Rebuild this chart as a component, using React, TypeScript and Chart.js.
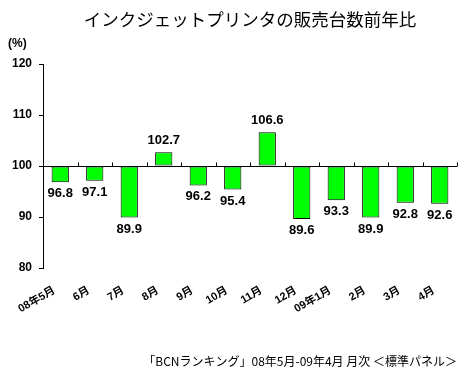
import React, { useEffect, useRef } from 'react';
import { Chart, registerables } from 'chart.js';

Chart.register(...registerables);

const TITLE = 'インクジェットプリンタの販売台数前年比';
const SOURCE = '「BCNランキング」08年5月-09年4月 月次 ＜標準パネル＞';
const UNIT = '(%)';
const categories = ['08年5月', '6月', '7月', '8月', '9月', '10月', '11月', '12月', '09年1月', '2月', '3月', '4月'];
const values = [96.8, 97.1, 89.9, 102.7, 96.2, 95.4, 106.6, 89.6, 93.3, 89.9, 92.8, 92.6];
const baseline = 100;
const yTicks = [80, 90, 100, 110, 120];

const FAMILY = "'Liberation Sans', 'Noto Sans CJK JP', sans-serif";
const CJK = "'Noto Sans CJK JP', 'Liberation Sans', sans-serif";

const overlay = {
  id: 'overlay',
  afterDatasetsDraw(chart: any) {
    const { ctx } = chart;
    const x = chart.scales.x;
    const y = chart.scales.y;
    const meta = chart.getDatasetMeta(0);
    ctx.save();
    const y0 = Math.round(y.getPixelForValue(baseline)) + 0.5;
    ctx.strokeStyle = '#000';
    ctx.lineWidth = 1;
    const n = categories.length;
    for (let i = 1; i <= n; i++) {
      const bx = i < n ? (x.getPixelForValue(i - 1) + x.getPixelForValue(i)) / 2 : x.right;
      const px = Math.round(bx) + 0.5;
      ctx.beginPath();
      ctx.moveTo(px, y0);
      ctx.lineTo(px, y0 - 4);
      ctx.stroke();
    }
    ctx.font = `bold 13px ${FAMILY}`;
    ctx.fillStyle = '#000';
    ctx.textAlign = 'center';
    meta.data.forEach((bar: any, i: number) => {
      const v = values[i];
      const py = y.getPixelForValue(v);
      if (v < baseline) {
        ctx.textBaseline = 'top';
        ctx.fillText(v.toFixed(1), bar.x, py + 5);
      } else {
        ctx.textBaseline = 'bottom';
        ctx.fillText(v.toFixed(1), bar.x, py - 5);
      }
    });
    ctx.font = `bold 12px ${FAMILY}`;
    ctx.textAlign = 'left';
    ctx.textBaseline = 'middle';
    ctx.fillText(UNIT, 8, 44);
    ctx.restore();
  },
};

export default function App() {
  const ref = useRef<HTMLCanvasElement | null>(null);
  useEffect(() => {
    document.body.style.margin = '0';
    const canvas = ref.current;
    if (!canvas) return;
    const chart = new Chart(canvas, {
      type: 'bar',
      data: {
        labels: categories,
        datasets: [
          {
            data: values,
            base: baseline,
            backgroundColor: '#00ff00',
            borderColor: '#000000',
            borderWidth: 1,
            borderSkipped: false,
            categoryPercentage: 1,
            barPercentage: 0.5,
          } as any,
        ],
      },
      options: {
        animation: false,
        responsive: false,
        devicePixelRatio: 1,
        layout: { padding: { left: 0, right: 13, top: 0, bottom: 0 } },
        plugins: {
          legend: { display: false },
          tooltip: { enabled: false },
          title: {
            display: true,
            text: TITLE,
            fullSize: false,
            color: '#000',
            font: { family: CJK, size: 17.5, weight: 'normal' },
            padding: { top: 9, bottom: 34 },
          },
          subtitle: {
            display: true,
            text: SOURCE,
            position: 'bottom',
            align: 'end',
            fullSize: false,
            color: '#000',
            font: { family: CJK, size: 12, weight: 'normal' },
            padding: { top: 0, bottom: 7 },
          },
        },
        scales: {
          x: {
            grid: { display: false, drawTicks: false },
            border: { display: false },
            ticks: {
              color: '#000',
              font: { family: FAMILY, size: 11, weight: 'bold' },
              minRotation: 30,
              maxRotation: 30,
              autoSkip: false,
              padding: 16,
              labelOffset: -6,
            },
            afterFit(scale: any) {
              scale.height = 86.6;
            },
          },
          y: {
            min: yTicks[0],
            max: yTicks[yTicks.length - 1],
            border: { display: true, color: '#000', width: 1 },
            grid: {
              color: (c: any) => (c.tick && c.tick.value === baseline ? '#000' : 'rgba(0,0,0,0)'),
              tickColor: '#000',
              tickLength: 4,
              drawTicks: true,
            },
            ticks: {
              stepSize: yTicks[1] - yTicks[0],
              color: '#000',
              padding: 7,
              font: { family: FAMILY, size: 12, weight: 'bold' },
            },
            afterFit(scale: any) {
              scale.width = 43;
            },
          },
        },
      },
      plugins: [overlay],
    });
    return () => chart.destroy();
  }, []);
  return (
    <div style={{ width: 470, height: 376, background: '#fff' }}>
      <canvas ref={ref} width={470} height={376} style={{ display: 'block' }} />
    </div>
  );
}
